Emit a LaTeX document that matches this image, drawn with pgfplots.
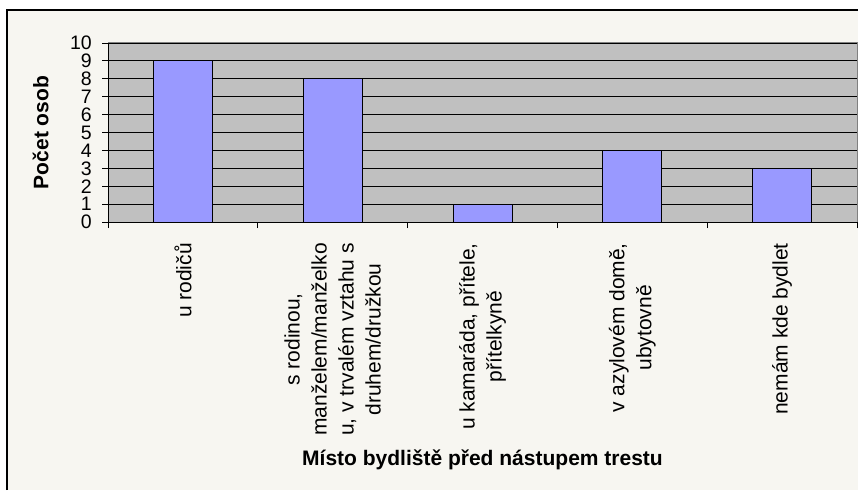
\documentclass[border=0pt]{standalone}
\usepackage{fontspec}
\setmainfont{Liberation Sans}
\usepackage{pgfplots}
\pgfplotsset{compat=1.18}

\definecolor{framebg}{RGB}{247,246,241}
\definecolor{plotbg}{RGB}{192,192,192}
\definecolor{barcol}{RGB}{153,153,255}

\begin{document}
\begin{tikzpicture}
\useasboundingbox (0pt,0pt) rectangle (858pt,490pt);
% chart frame (runs off the right and bottom edge)
\fill[framebg] (7pt,0pt) rectangle (858pt,480pt);
\draw[black, line width=1.3pt] (7pt,0pt) -- (7pt,480pt) -- (858pt,480pt);

\begin{axis}[
    at={(108pt,268pt)}, anchor=south west,
    scale only axis,
    width=749pt, height=179pt,
    xmin=-0.5, xmax=4.5,
    ymin=0, ymax=10,
    ytick={0,1,...,10},
    xtick={-0.5,0.5,...,4.5},
    xticklabels={},
    extra x ticks={0,1,2,3,4},
    extra x tick labels={
        {u rodičů},
        {s rodinou,\\manželem/manželko\\u, v trvalém vztahu s\\druhem/družkou},
        {u kamaráda, přítele,\\přítelkyně},
        {v azylovém domě,\\ubytovně},
        {nemám kde bydlet}},
    extra x tick style={
        major tick length=0pt,
        xticklabel style={rotate=90, anchor=east, align=center,
            font=\fontsize{21}{27}\selectfont, inner sep=0pt, xshift=-21pt},
    },
    tick align=outside,
    major tick length=6pt,
    tick style={black, line width=0.8pt},
    axis x line*=bottom,
    axis y line*=left,
    axis line style={black, line width=1pt},
    axis background/.style={fill=plotbg, draw=gray, line width=1pt},
    ymajorgrids,
    major grid style={black, line width=0.8pt},
    yticklabel style={font=\fontsize{19.5}{19.5}\selectfont, inner sep=1pt, xshift=-9pt},
    /pgf/number format/assume math mode=true,
    xlabel={\textbf{Místo bydliště před nástupem trestu}},
    xlabel style={at={(axis description cs:0.5,-1.33)}, anchor=center,
        font=\fontsize{21}{24}\selectfont},
    ylabel={\textbf{Počet osob}},
    ylabel style={at={(axis description cs:-0.09,0.5)}, anchor=center,
        font=\fontsize{21}{24}\selectfont},
]
\addplot[ybar, bar width=59pt, fill=barcol, draw=black, line width=1pt]
    coordinates {(0,9) (1,8) (2,1) (3,4) (4,3)};
\end{axis}
\end{tikzpicture}
\end{document}
